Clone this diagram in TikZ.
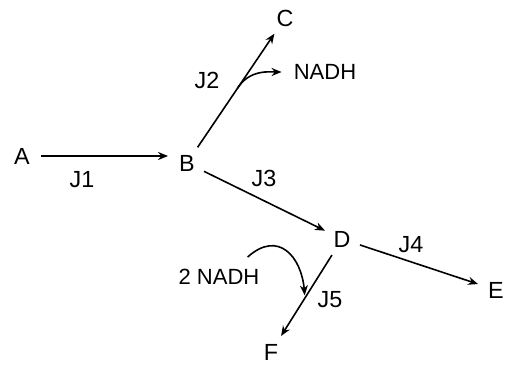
\documentclass[tikz,border=0pt]{standalone}
\usepackage{fontspec}
\setmainfont{Liberation Sans}
\usetikzlibrary{arrows.meta}

\tikzset{
	met/.style = {circle, inner sep = 0pt, minimum size = 28pt, font = \fontsize{17.5}{19}\selectfont},
	flux/.style = {font = \fontsize{17.5}{19}\selectfont},
	cofac/.style = {inner sep = 0pt, font = \fontsize{16.5}{18}\selectfont},
	rxn/.style = {line width = 1.2pt, ->}
}

\begin{document}
\begin{tikzpicture}[x = 0.75pt, y = -0.75pt, >={Stealth[length = 7.5pt, width = 6pt]}]
	\useasboundingbox (0,0) rectangle (506,365);
	
	\node[met] (A) at (22,156) {A};
	\node[met] (B) at (187,163) {B};
	\node[met] (C) at (285,18) {C};
	\node[met] (D) at (342,239) {D};
	\node[met] (E) at (496,290) {E};
	\node[met] (F) at (271,352) {F};
	
	\node[cofac] (nadh1) at (325,72) {NADH};
	\node[cofac] (nadh2) at (219,277) {2 NADH};
	
	\draw[rxn] (A) -- (A -| B.west);
	\draw[rxn] (B) -- coordinate[pos = 0.52] (j2) (C);
	\draw[rxn] (B) -- (D);
	\draw[rxn] (D) -- (E);
	\draw[rxn] (D) -- coordinate[pos = 0.53] (j5) (F);
	
	\draw[rxn, shorten > = 9pt] (j2) to[out = 58, in = 180] (nadh1.west);
	\draw[rxn, shorten > = 2pt] ([xshift = -9pt, yshift = 9pt]nadh2.north east) to[out = 42, in = 95, looseness = 1.5] (j5);
	
	\node[flux] (J1) at (82,180) {J1};
	\node[flux] (J2) at (207,80) {J2};
	\node[flux] (J3) at (264,178) {J3};
	\node[flux] (J4) at (411,245) {J4};
	\node[flux] (J5) at (330,300) {J5};
\end{tikzpicture}
\end{document}
